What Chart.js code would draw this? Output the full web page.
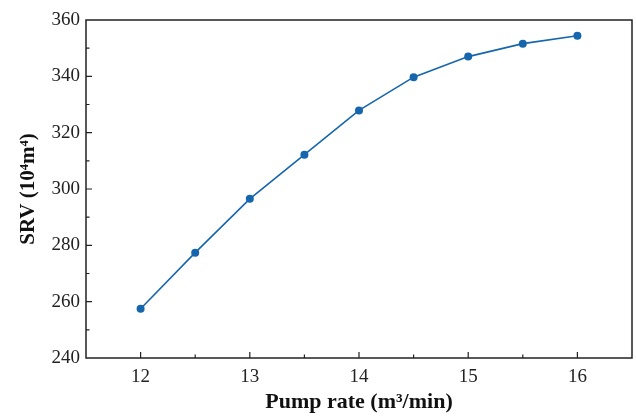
<!DOCTYPE html>
<html lang="en">
<head>
    <meta charset="UTF-8">
    <title>SRV vs Pump rate</title>
    <script src="https://cdn.jsdelivr.net/npm/chart.js"></script>
    <style>
        body { margin: 0; background: #fff; }
        .wrap { width: 636px; height: 417px; }
    </style>
</head>
<body>
<div class="wrap"><canvas id="chart" width="636" height="417"></canvas></div>
<script>
// data
const pumpRate = [12, 12.5, 13, 13.5, 14, 14.5, 15, 15.5, 16];
const srv = [257.5, 277.4, 296.5, 312.2, 327.9, 339.7, 347.0, 351.6, 354.4];
const xTicks = [12, 13, 14, 15, 16];
const yTicks = [240, 260, 280, 300, 320, 340, 360];

const lineColor = '#1666ae';
const serif = "'Liberation Serif', 'Times New Roman', serif";

// inward ticks + frame
const frame = {
    id: 'frame',
    afterDraw(chart) {
        const { ctx, chartArea: a } = chart;
        const xs = chart.scales.x, ys = chart.scales.y;
        ctx.save();
        ctx.strokeStyle = '#222';
        ctx.lineWidth = 1.5;
        ctx.strokeRect(a.left, a.top, a.right - a.left, a.bottom - a.top);
        ctx.lineWidth = 1.2;
        ctx.beginPath();
        for (let v = 11.5; v <= 16.5; v += 0.5) {
            const px = xs.getPixelForValue(v);
            if (px <= a.left + 1 || px >= a.right - 1) continue;
            const len = Number.isInteger(v) ? 6 : 3.5;
            ctx.moveTo(px, a.bottom);
            ctx.lineTo(px, a.bottom - len);
        }
        for (let v = 240; v <= 360; v += 10) {
            const py = ys.getPixelForValue(v);
            if (py <= a.top + 1 || py >= a.bottom - 1) continue;
            const len = v % 20 === 0 ? 6 : 3.5;
            ctx.moveTo(a.left, py);
            ctx.lineTo(a.left + len, py);
        }
        ctx.stroke();
        ctx.restore();
    }
};

new Chart(document.getElementById('chart'), {
    type: 'line',
    data: {
        datasets: [{
            data: pumpRate.map((x, i) => ({ x: x, y: srv[i] })),
            borderColor: lineColor,
            backgroundColor: lineColor,
            borderWidth: 1.6,
            pointRadius: 4,
            pointBorderWidth: 0,
            tension: 0
        }]
    },
    options: {
        responsive: false,
        animation: false,
        layout: { padding: { top: 20, right: 4, left: 0, bottom: 0 } },
        plugins: { legend: { display: false }, tooltip: { enabled: false } },
        scales: {
            x: {
                type: 'linear',
                min: 11.5,
                max: 16.5,
                afterBuildTicks: s => { s.ticks = xTicks.map(v => ({ value: v })); },
                afterFit: s => { s.height = 59; },
                grid: { display: false, drawTicks: false },
                border: { display: false },
                ticks: { color: '#222', padding: 8, font: { family: serif, size: 19 } },
                title: {
                    display: true,
                    text: 'Pump rate (m³/min)',
                    color: '#111',
                    padding: { top: 10, bottom: 4 },
                    font: { family: serif, size: 22, weight: 'bold', lineHeight: 1 }
                }
            },
            y: {
                min: 240,
                max: 360,
                afterBuildTicks: s => { s.ticks = yTicks.map(v => ({ value: v })); },
                afterFit: s => { s.width = 86; },
                grid: { display: false, drawTicks: false },
                border: { display: false },
                ticks: { color: '#222', padding: 6, font: { family: serif, size: 19 } },
                title: {
                    display: true,
                    text: 'SRV (10⁴m⁴)',
                    color: '#111',
                    padding: { top: 16, bottom: 0 },
                    font: { family: serif, size: 21, weight: 'bold' }
                }
            }
        }
    },
    plugins: [frame]
});
</script>
</body>
</html>
